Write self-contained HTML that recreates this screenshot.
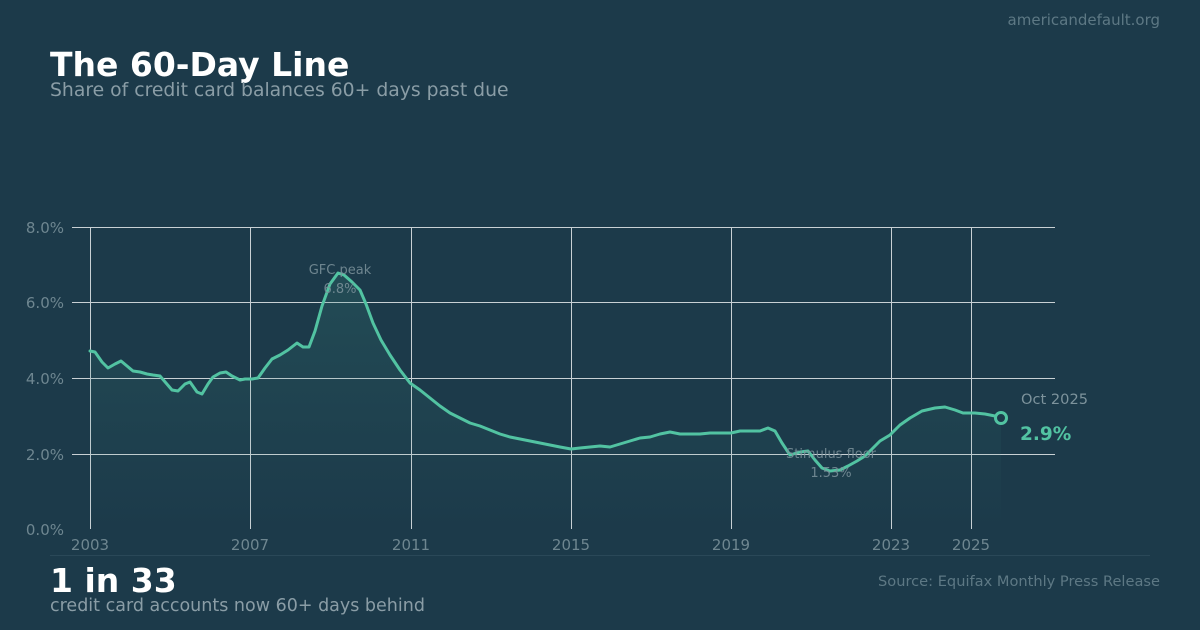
<!DOCTYPE html>
<html><head><meta charset="utf-8"><style>
body{margin:0;width:1200px;height:630px;background:#1c3a4a;font-family:"DejaVu Sans",sans-serif;overflow:hidden;position:relative}
.t{position:absolute;white-space:nowrap}
</style></head><body>
<div class="t" style="right:40px;top:11px;font-size:15px;color:#5d7884">americandefault.org</div>
<div class="t" style="left:50px;top:45px;font-size:33px;font-weight:bold;color:#fff">The 60-Day Line</div>
<div class="t" style="left:50px;top:80px;font-size:18.8px;color:#8a9da6">Share of credit card balances 60+ days past due</div>
<svg width="1200" height="630" style="position:absolute;left:0;top:0" font-family="DejaVu Sans, sans-serif">
<defs><linearGradient id="g" x1="0" y1="0" x2="0" y2="1"><stop offset="0" stop-color="#3a8a7e" stop-opacity="0.22"/><stop offset="1" stop-color="#3a8a7e" stop-opacity="0"/></linearGradient></defs>
<g stroke="#c8d0d4" stroke-width="1">
<line x1="72" y1="227.5" x2="1055" y2="227.5"/><line x1="72" y1="302.5" x2="1055" y2="302.5"/><line x1="72" y1="378.5" x2="1055" y2="378.5"/><line x1="72" y1="454.5" x2="1055" y2="454.5"/>
<line x1="90.5" y1="227" x2="90.5" y2="529"/><line x1="250.5" y1="227" x2="250.5" y2="529"/><line x1="411.5" y1="227" x2="411.5" y2="529"/><line x1="571.5" y1="227" x2="571.5" y2="529"/><line x1="731.5" y1="227" x2="731.5" y2="529"/><line x1="891.5" y1="227" x2="891.5" y2="529"/><line x1="971.5" y1="227" x2="971.5" y2="529"/>
</g>
<g fill="#6e8690" font-size="15" text-anchor="end">
<text x="64" y="233">8.0%</text><text x="64" y="308">6.0%</text><text x="64" y="384">4.0%</text><text x="64" y="460">2.0%</text><text x="64" y="535">0.0%</text>
</g>
<g fill="#6e8690" font-size="15" text-anchor="middle">
<text x="90" y="550">2003</text><text x="250" y="550">2007</text><text x="411" y="550">2011</text><text x="571" y="550">2015</text><text x="731" y="550">2019</text><text x="891" y="550">2023</text><text x="971" y="550">2025</text>
</g>
<polygon fill="url(#g)" points="90,529 90,351 95,352 102,362 108,368 115,364 121,361 127,366 133,371 140,372 147,374 153,375 160,376 166,383 172,390 178,391 185,384 190,382 197,392 202,394 208,384 213,377 220,373 226,372 232,376 240,380 245,379 252,379 258,378 265,368 272,359 280,355 288,350 297,343 303,347 309,347 315,331 322,306 330,284 338,273 344,275 352,282 360,290 366,304 373,323 381,340 390,355 400,370 410,383 420,390 430,398 440,406 450,413 460,418 470,423 480,426 490,430 500,434 510,437 520,439 530,441 540,443 550,445 560,447 571,449 580,448 590,447 600,446 610,447 620,444 630,441 640,438 650,437 660,434 670,432 680,434 690,434 700,434 710,433 720,433 731,433 740,431 750,431 760,431 768,428 775,431 782,443 790,455 800,452 808,451 815,460 822,468 830,471 840,470 848,466 857,461 865,456 873,448 880,441 890,435 900,425 910,418 922,411 935,408 945,407 955,410 963,413 975,413 985,414 995,416 1001,418 1001,529"/>
<polyline fill="none" stroke="#52c3a2" stroke-width="3" stroke-linejoin="round" stroke-linecap="round" points="90,351 95,352 102,362 108,368 115,364 121,361 127,366 133,371 140,372 147,374 153,375 160,376 166,383 172,390 178,391 185,384 190,382 197,392 202,394 208,384 213,377 220,373 226,372 232,376 240,380 245,379 252,379 258,378 265,368 272,359 280,355 288,350 297,343 303,347 309,347 315,331 322,306 330,284 338,273 344,275 352,282 360,290 366,304 373,323 381,340 390,355 400,370 410,383 420,390 430,398 440,406 450,413 460,418 470,423 480,426 490,430 500,434 510,437 520,439 530,441 540,443 550,445 560,447 571,449 580,448 590,447 600,446 610,447 620,444 630,441 640,438 650,437 660,434 670,432 680,434 690,434 700,434 710,433 720,433 731,433 740,431 750,431 760,431 768,428 775,431 782,443 790,455 800,452 808,451 815,460 822,468 830,471 840,470 848,466 857,461 865,456 873,448 880,441 890,435 900,425 910,418 922,411 935,408 945,407 955,410 963,413 975,413 985,414 995,416 1001,418"/>
<circle cx="1001" cy="418" r="5.5" fill="#1c3a4a" stroke="#52c3a2" stroke-width="3"/>
<g fill="#7d939c" font-size="13" text-anchor="middle" opacity="0.85">
<text x="340" y="274">GFC peak</text><text x="340" y="293">6.8%</text>
<text x="831" y="458">Stimulus floor</text><text x="831" y="477">1.53%</text>
</g>
<text x="1021" y="404" fill="#7d939c" font-size="14.6">Oct 2025</text>
<text x="1020" y="440" fill="#52c3a2" font-size="18.5" font-weight="bold">2.9%</text>
<line x1="50" y1="555.5" x2="1150" y2="555.5" stroke="#2a4858" stroke-width="1"/>
</svg>
<div class="t" style="left:50px;top:561px;font-size:33px;font-weight:bold;color:#fff">1 in 33</div>
<div class="t" style="left:50px;top:596px;font-size:17.5px;color:#8a9da6">credit card accounts now 60+ days behind</div>
<div class="t" style="right:40px;top:573px;font-size:14.6px;color:#5d7884">Source: Equifax Monthly Press Release</div>
</body></html>
